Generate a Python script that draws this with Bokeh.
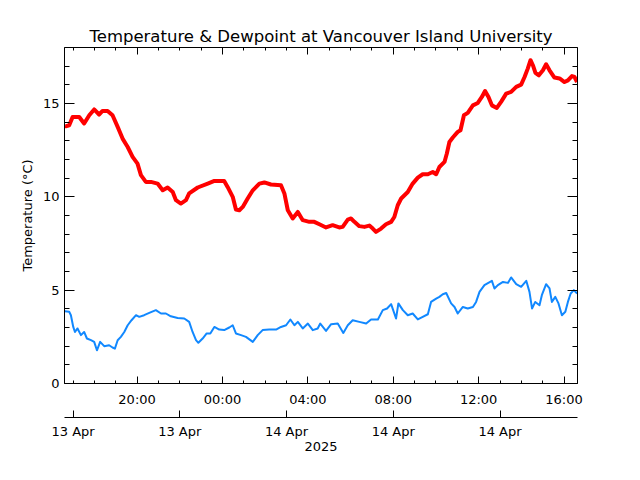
import pandas as pd
from bokeh.plotting import figure
from bokeh.models import (Range1d, DatetimeAxis, LinearAxis, FixedTicker, DatetimeTickFormatter,
                          CustomJSTickFormatter)
from bokeh.embed import file_html
from bokeh.resources import INLINE

TITLE = "Temperature & Dewpoint at Vancouver Island University"
Y_LABEL = "Temperature (°C)"
YEAR_LABEL = "2025"
BASE = "2025-04-13 00:00"   # hours below are counted from this instant

temp_hours = [16.62, 16.66, 16.82, 16.98, 17.13, 17.29, 17.52, 17.76, 17.99, 18.22,
              18.38, 18.62, 18.85, 19.09, 19.32, 19.56, 19.79, 20.02, 20.18, 20.41,
              20.65, 20.96, 21.20, 21.43, 21.67, 21.82, 22.05, 22.29, 22.44, 22.84,
              23.31, 23.62, 24.08, 24.24, 24.48, 24.63, 24.79, 24.95, 25.18, 25.42,
              25.73, 25.96, 26.27, 26.74, 26.90, 27.06, 27.29, 27.53, 27.76, 28.07,
              28.30, 28.54, 28.85, 29.16, 29.47, 29.63, 29.87, 30.02, 30.18, 30.41,
              30.65, 30.88, 31.04, 31.19, 31.43, 31.66, 31.90, 32.05, 32.21, 32.37,
              32.68, 32.91, 33.15, 33.38, 33.62, 33.85, 34.01, 34.16, 34.40, 34.51,
              34.63, 34.79, 35.02, 35.15, 35.31, 35.49, 35.73, 35.96, 36.15, 36.30,
              36.46, 36.62, 36.85, 37.05, 37.29, 37.52, 37.76, 37.99, 38.15, 38.30,
              38.43, 38.54, 38.66, 38.82, 39.01, 39.16, 39.32, 39.55, 39.79, 40.02,
              40.18, 40.37, 40.49, 40.61]
temp_vals = [13.8, 13.78, 13.83, 14.28, 14.28, 14.28, 13.93, 14.37, 14.68, 14.41,
             14.6, 14.6, 14.37, 13.75, 13.12, 12.67, 12.14, 11.78, 11.16, 10.8,
             10.8, 10.71, 10.35, 10.5, 10.26, 9.82, 9.64, 9.82, 10.18, 10.5,
             10.71, 10.85, 10.85, 10.53, 10.0, 9.32, 9.28, 9.46, 9.91, 10.35,
             10.71, 10.77, 10.66, 10.62, 10.18, 9.28, 8.84, 9.19, 8.75, 8.66,
             8.66, 8.53, 8.36, 8.48, 8.36, 8.39, 8.78, 8.84, 8.66, 8.43,
             8.39, 8.46, 8.3, 8.12, 8.3, 8.53, 8.66, 8.92, 9.55, 9.91,
             10.26, 10.71, 11.03, 11.21, 11.21, 11.33, 11.21, 11.6, 11.87, 12.32,
             12.94, 13.18, 13.48, 13.57, 14.37, 14.5, 14.9, 15.03, 15.35, 15.67,
             15.35, 14.9, 14.76, 15.09, 15.53, 15.62, 15.89, 16.01, 16.42, 16.87,
             17.32, 17.05, 16.64, 16.51, 16.78, 17.1, 16.78, 16.39, 16.34, 16.15,
             16.24, 16.47, 16.42, 16.15]

dew_hours = [16.62, 16.82, 16.90, 17.01, 17.09, 17.21, 17.37, 17.52, 17.65, 17.84,
             17.99, 18.12, 18.27, 18.46, 18.69, 18.85, 18.96, 19.09, 19.24, 19.40,
             19.56, 19.74, 19.95, 20.10, 20.33, 20.57, 20.88, 21.12, 21.35, 21.58,
             21.90, 22.21, 22.44, 22.60, 22.76, 22.87, 23.07, 23.26, 23.43, 23.62,
             23.85, 24.08, 24.32, 24.48, 24.63, 24.87, 25.10, 25.42, 25.65, 25.88,
             26.19, 26.51, 26.74, 26.98, 27.18, 27.37, 27.53, 27.76, 28.00, 28.23,
             28.46, 28.58, 28.85, 29.09, 29.40, 29.66, 29.87, 30.10, 30.41, 30.73,
             30.96, 31.28, 31.51, 31.71, 31.90, 32.13, 32.24, 32.45, 32.68, 32.91,
             33.15, 33.38, 33.62, 33.77, 34.01, 34.16, 34.32, 34.48, 34.71, 34.87,
             35.02, 35.26, 35.49, 35.73, 35.88, 36.04, 36.27, 36.62, 36.74, 36.90,
             37.14, 37.37, 37.52, 37.76, 37.99, 38.23, 38.38, 38.50, 38.65, 38.85,
             38.96, 39.16, 39.32, 39.43, 39.59, 39.74, 39.90, 40.06, 40.18, 40.31,
             40.46, 40.61]
dew_vals = [3.87, 3.84, 3.66, 3.03, 2.76, 2.95, 2.59, 2.76, 2.41, 2.32,
            2.23, 1.78, 2.23, 2.0, 2.05, 1.93, 1.87, 2.32, 2.5, 2.76,
            3.12, 3.39, 3.66, 3.57, 3.66, 3.78, 3.93, 3.75, 3.75, 3.6,
            3.51, 3.48, 3.3, 2.76, 2.32, 2.18, 2.41, 2.68, 2.68, 3.03,
            2.89, 2.86, 3.0, 3.12, 2.68, 2.59, 2.5, 2.23, 2.59, 2.86,
            2.89, 2.89, 3.03, 3.12, 3.43, 3.12, 3.3, 2.95, 3.21, 2.86,
            2.95, 3.21, 2.82, 3.18, 3.21, 2.71, 3.12, 3.39, 3.3, 3.21,
            3.43, 3.43, 3.93, 4.02, 4.25, 3.48, 4.29, 3.93, 3.66, 3.75,
            3.43, 3.57, 3.71, 4.37, 4.55, 4.64, 4.78, 4.85, 4.29, 4.1,
            3.75, 4.1, 4.02, 4.1, 4.37, 4.91, 5.27, 5.5, 5.09, 5.27,
            5.44, 5.39, 5.68, 5.32, 5.18, 5.5, 4.91, 4.02, 4.37, 4.19,
            4.73, 5.32, 5.09, 4.37, 4.64, 4.29, 3.66, 3.84, 4.37, 4.82,
            5.0, 4.82]

x_start_h, x_end_h = 16.60, 40.63
time_major_h = [20, 24, 28, 32, 36, 40]
time_minor_h = list(range(17, 41))
date_tick_h = [17, 22, 27, 32, 37]
y_major = [0, 5, 10, 15]
y_minor = list(range(0, 19))
y_start, y_end = 0, 18

base_ms = pd.Timestamp(BASE).value // 10**6


def to_ms(hours):
    return [base_ms + h * 3600000.0 for h in hours]


FONT = "DejaVu Sans"

p = figure(x_axis_type="datetime", frame_width=513, frame_height=336,
           min_border_left=64, min_border_right=63, min_border_top=47, min_border_bottom=97,
           output_backend="svg", toolbar_location=None, tools="",
           x_range=Range1d(to_ms([x_start_h])[0], to_ms([x_end_h])[0]),
           y_range=Range1d(y_start, y_end))
p.outline_line_color = None
p.background_fill_color = "white"
p.border_fill_color = "white"
p.xgrid.visible = False
p.ygrid.visible = False

p.title.text = TITLE
p.title.align = "center"
p.title.text_font = FONT
p.title.text_font_size = "16.5px"
p.title.text_font_style = "normal"
p.title.text_color = "black"
p.title.standoff = 3


def fmt(s):
    return DatetimeTickFormatter(microseconds=s, milliseconds=s, seconds=s, minsec=s,
                                 minutes=s, hourmin=s, hours=s, days=s, months=s, years=s)


def style(ax, maj_in, min_in, labels=True):
    ax.major_tick_in = maj_in
    ax.major_tick_out = 0
    ax.minor_tick_in = min_in
    ax.minor_tick_out = 0
    ax.axis_line_color = "black"
    ax.major_tick_line_color = "black"
    ax.minor_tick_line_color = "black"
    ax.major_label_text_font = FONT
    ax.major_label_text_color = "black"
    ax.axis_label_text_color = "black"
    if labels:
        ax.major_label_text_font_size = "13px"
    else:
        ax.formatter = CustomJSTickFormatter(code="return ''")
        ax.major_label_text_font_size = "1px"
        ax.major_label_standoff = 0


time_ticker = FixedTicker(ticks=to_ms(time_major_h), minor_ticks=to_ms(time_minor_h))
y_ticker = FixedTicker(ticks=y_major, minor_ticks=y_minor)

# bottom time axis
xb = p.xaxis[0]
xb.ticker = time_ticker
xb.formatter = fmt("%H:%M")
style(xb, 7, 3)
xb.major_label_standoff = 8
xb.axis_label = " "
xb.axis_label_text_font_size = "4px"
xb.axis_label_standoff = 0

# second (date) axis below
xd = DatetimeAxis(ticker=FixedTicker(ticks=to_ms(date_tick_h), minor_ticks=[]),
                  formatter=fmt("%d %b"))
style(xd, 7, 0)
xd.major_label_standoff = 6
xd.axis_label = YEAR_LABEL
xd.axis_label_text_font = FONT
xd.axis_label_text_font_size = "13px"
xd.axis_label_text_font_style = "normal"
xd.axis_label_standoff = 0
p.add_layout(xd, "below")

# top axis (ticks only)
xt = DatetimeAxis(ticker=time_ticker)
style(xt, 7, 3, labels=False)
p.add_layout(xt, "above")

# left axis
yl = p.yaxis[0]
yl.ticker = y_ticker
style(yl, 10, 5)
yl.major_label_standoff = 5
yl.axis_label = Y_LABEL
yl.axis_label_text_font = FONT
yl.axis_label_text_font_size = "13px"
yl.axis_label_text_font_style = "normal"
yl.axis_label_standoff = 5

# right axis (ticks only)
yr = LinearAxis(ticker=y_ticker)
style(yr, 10, 5, labels=False)
p.add_layout(yr, "right")

p.line(to_ms(temp_hours), temp_vals, line_color="#ff0000", line_width=4, line_join="round")
p.line(to_ms(dew_hours), dew_vals, line_color="#1188ff", line_width=2, line_join="round")

open("out.html", "w").write(file_html(p, INLINE))
